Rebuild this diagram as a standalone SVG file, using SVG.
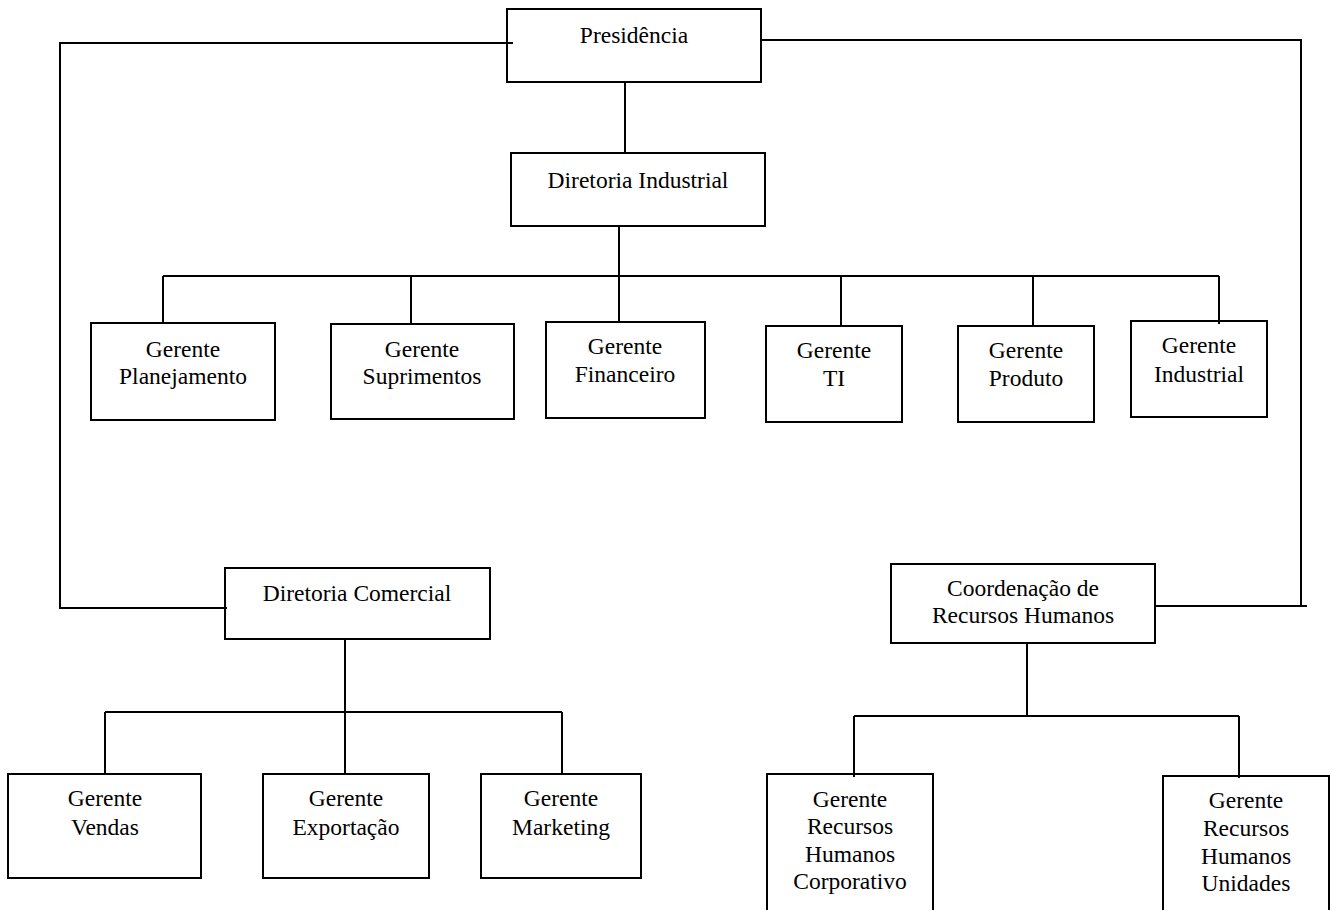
<svg xmlns="http://www.w3.org/2000/svg" width="1332" height="910" viewBox="0 0 1332 910">
<style>
rect.box{fill:#fff;stroke:#000;stroke-width:2}
#connectors path{fill:none;stroke:#000;stroke-width:2}
text{font-family:"Liberation Serif","Times New Roman",serif;font-size:23.5px;fill:#000;text-anchor:middle}
</style>
<rect width="1332" height="910" fill="#fff"/>
<g id="presidencia"><rect class="box" x="507" y="9" width="254" height="73"/><text x="634" y="43">Presidência</text></g>
<g id="diretoria-industrial"><rect class="box" x="511" y="153" width="254" height="73"/><text x="638" y="188">Diretoria Industrial</text></g>
<g id="gerente-planejamento"><rect class="box" x="91" y="323" width="184" height="97"/><text x="183" y="357">Gerente</text><text x="183" y="384">Planejamento</text></g>
<g id="gerente-suprimentos"><rect class="box" x="331" y="324" width="183" height="95"/><text x="422" y="357">Gerente</text><text x="422" y="384">Suprimentos</text></g>
<g id="gerente-financeiro"><rect class="box" x="546" y="322" width="159" height="96"/><text x="625" y="354">Gerente</text><text x="625" y="382">Financeiro</text></g>
<g id="gerente-ti"><rect class="box" x="766" y="326" width="136" height="96"/><text x="834" y="358">Gerente</text><text x="834" y="386">TI</text></g>
<g id="gerente-produto"><rect class="box" x="958" y="326" width="136" height="96"/><text x="1026" y="358">Gerente</text><text x="1026" y="386">Produto</text></g>
<g id="gerente-industrial"><rect class="box" x="1131" y="321" width="136" height="96"/><text x="1199" y="353">Gerente</text><text x="1199" y="382">Industrial</text></g>
<g id="diretoria-comercial"><rect class="box" x="225" y="568" width="265" height="71"/><text x="357" y="601">Diretoria Comercial</text></g>
<g id="coordenacao-rh"><rect class="box" x="891" y="564" width="264" height="79"/><text x="1023" y="596">Coordenação de</text><text x="1023" y="623">Recursos Humanos</text></g>
<g id="gerente-vendas"><rect class="box" x="8" y="774" width="193" height="104"/><text x="105" y="806">Gerente</text><text x="105" y="835">Vendas</text></g>
<g id="gerente-exportacao"><rect class="box" x="263" y="774" width="166" height="104"/><text x="346" y="806">Gerente</text><text x="346" y="835">Exportação</text></g>
<g id="gerente-marketing"><rect class="box" x="481" y="774" width="160" height="104"/><text x="561" y="806">Gerente</text><text x="561" y="835">Marketing</text></g>
<g id="gerente-rh-corporativo"><rect class="box" x="767" y="774" width="166" height="150"/><text x="850" y="807">Gerente</text><text x="850" y="834">Recursos</text><text x="850" y="862">Humanos</text><text x="850" y="889">Corporativo</text></g>
<g id="gerente-rh-unidades"><rect class="box" x="1163" y="776" width="166" height="150"/><text x="1246" y="808">Gerente</text><text x="1246" y="836">Recursos</text><text x="1246" y="864">Humanos</text><text x="1246" y="891">Unidades</text></g>
<g id="connectors">
<path d="M513,43 H60 V608 H227"/>
<path d="M761,40 H1301 V606"/>
<path d="M1155,606 H1307"/>
<path d="M625,82 V153"/>
<path d="M619,226 V276"/>
<path d="M163,276 H1219"/>
<path d="M163,276 V323 M411,276 V324 M619,276 V322 M841,276 V326 M1033,276 V326 M1219,276 V324"/>
<path d="M345,639 V773"/>
<path d="M105,712 H562 M105,712 V774 M562,712 V774"/>
<path d="M1027,643 V717"/>
<path d="M854,716 H1239 M854,716 V777 M1239,716 V778"/>
</g>
</svg>
